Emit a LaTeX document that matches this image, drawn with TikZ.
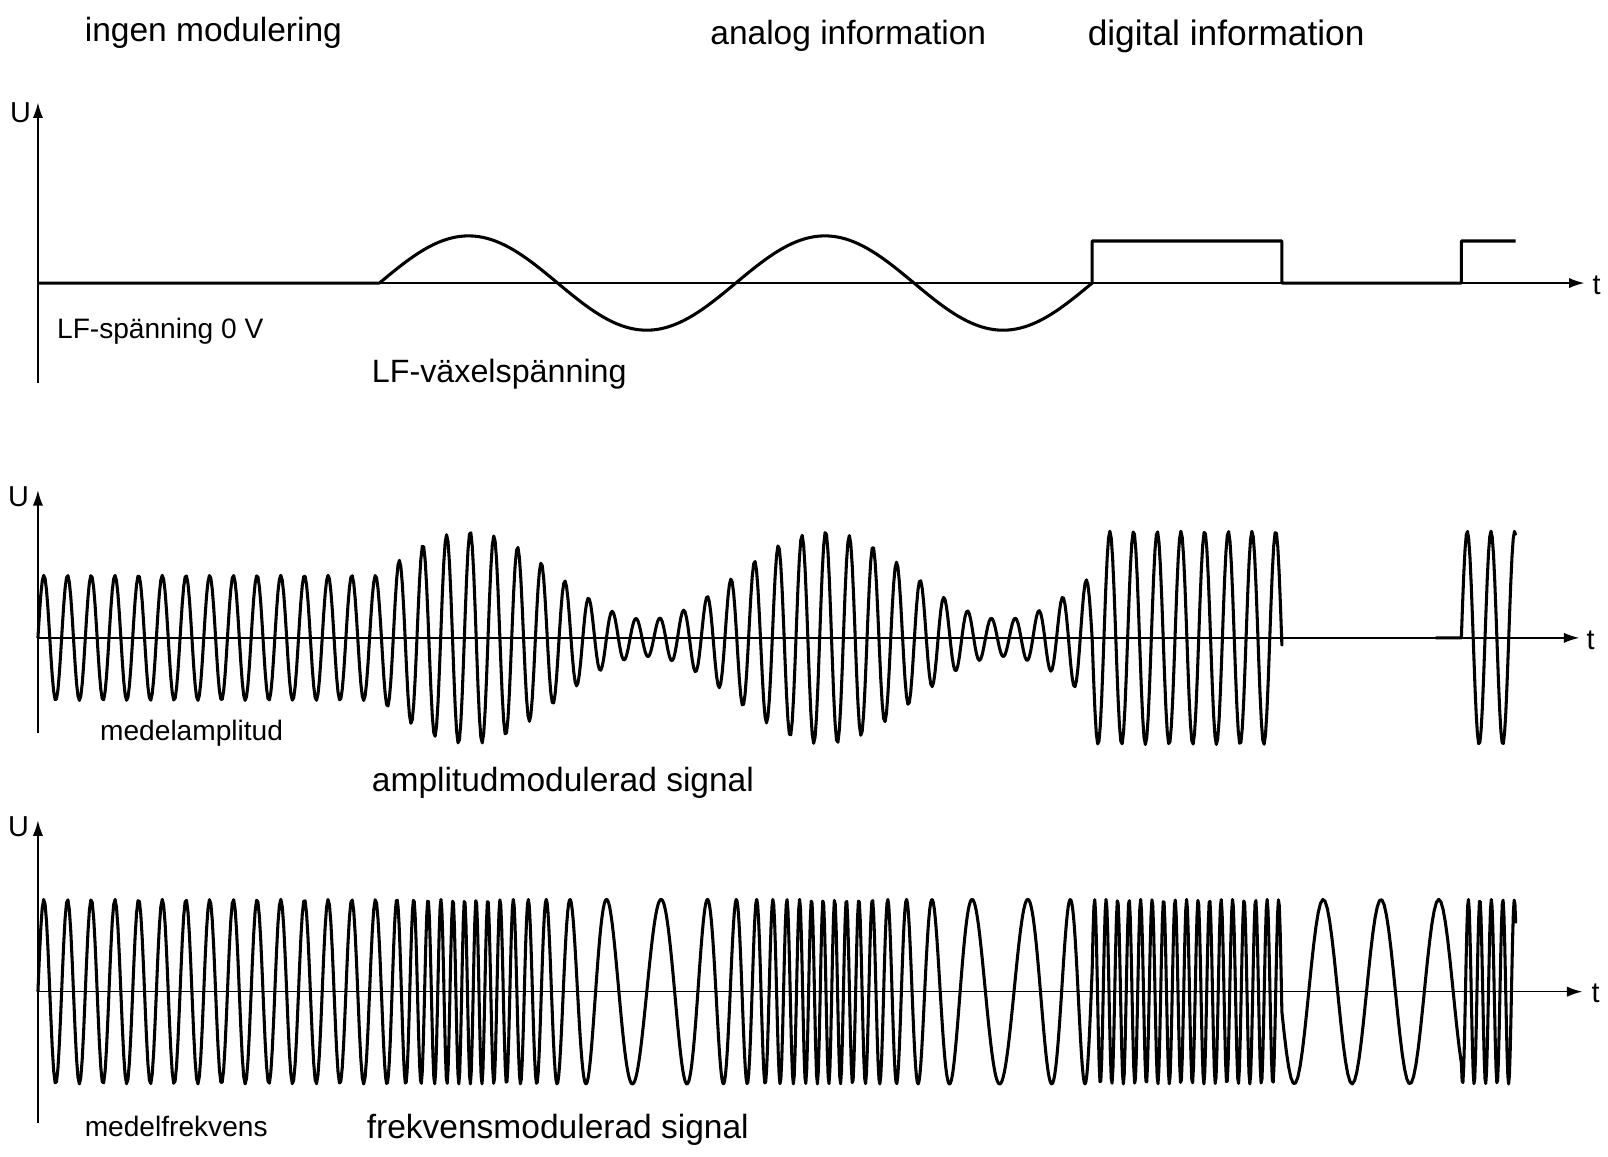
\documentclass[tikz,border=0pt]{standalone}
\usepackage{fontspec}
\setmainfont{Liberation Sans}
\usetikzlibrary{arrows.meta}

\tikzset{
  axisline/.style={line width=0.45pt},
  axisarrow/.style={line width=0.45pt, -{Latex[length=1.5mm,width=1mm]}},
  signal/.style={line width=0.85pt, line join=round},
  title/.style={font=\fontsize{9.3}{11}\selectfont, anchor=west, inner sep=0pt},
  smalltext/.style={font=\fontsize{7.8}{9}\selectfont, anchor=west, inner sep=0pt},
  unittext/.style={font=\fontsize{8}{9}\selectfont, inner sep=0pt},
}

\begin{document}
\begin{tikzpicture}[x=0.1mm, y=-0.1mm,
  declare function={
    car(\x)=sin(mod(\x-37,23.1)/23.1*360);
    env(\x)=1+0.7*sin((\x-370)/347.5*360);
    fmA(\x)=(\x-37)/23.1;
    fmB(\x)=fmA(370)+(1.1175*(\x-370)+45.63*(1-cos((\x-370)/347.5*360))-3.249*sin((\x-370)/347.5*720))/23.1;
    fmC(\x)=fmB(1065)+2.06*(\x-1065)/23.1;
    fmD(\x)=fmC(1250)+0.41*(\x-1250)/23.1;
    fmE(\x)=fmD(1425)+2.06*(\x-1425)/23.1;
    fm(\p)=sin(mod(\p,1)*360);
  }]
\useasboundingbox (0,0) rectangle (1568,1128);

% headings
\node[title] (ingen) at (82,32) {ingen modulering};
\node[title] (analog) at (692,35) {analog information};
\node[title, font=\fontsize{9.8}{11}\selectfont] (digital) at (1060,35) {digital information};

% LF signal
\coordinate (o1) at (37,373);
\coordinate (u1) at (37,100);
\coordinate (b1) at (37,276);
\coordinate (e1) at (1545,276);
\draw[axisarrow] (o1) -- (u1);
\draw[axisarrow] (b1) -- (e1);
\node[unittext] (U1) at (20,110) {U};
\node[unittext] (t1) at (1557,278) {t};
\draw[signal] (b1) -- (370,276)
  -- plot[domain=370:1065, samples=160] (\x,{276-46*sin((\x-370)/347.5*360)})
  -- (1065,235) -- (1250,235) -- (1250,276) -- (1425,276) -- (1425,235) -- (1478,235);
\node[smalltext] (lf0) at (55,323) {LF-spänning 0 V};
\node[title, font=\fontsize{8.95}{11}\selectfont] (lfac) at (362,365) {LF-växelspänning};

% AM signal
\coordinate (o2) at (37,715);
\coordinate (u2) at (37,478);
\coordinate (b2) at (37,622);
\coordinate (e2) at (1540,622);
\draw[axisarrow] (o2) -- (u2);
\draw[axisarrow] (b2) -- (e2);
\node[unittext] (U2) at (18,484) {U};
\node[unittext] (t2) at (1551,624) {t};
\draw[signal] plot[domain=37:370, samples=240] (\x,{622-61*car(\x)})
  -- plot[domain=370:1065, samples=500] (\x,{622-61*env(\x)*car(\x)})
  -- plot[domain=1065:1250, samples=140] (\x,{622-104*car(\x)})
  -- (1250,622);
\draw[signal] (1400,622)
  -- plot[domain=1425:1478, samples=45] (\x,{622-104*sin((\x-1425)/23.1*360)});
\node[smalltext] (medamp) at (97,715) {medelamplitud};
\node[title] (amsig) at (362,763) {amplitudmodulerad signal};

% FM signal
\coordinate (o3) at (37,1095);
\coordinate (u3) at (37,800);
\coordinate (b3) at (37,967);
\coordinate (e3) at (1543,967);
\draw[axisarrow] (o3) -- (u3);
\draw[axisarrow] (b3) -- (e3);
\node[unittext] (U3) at (18,806) {U};
\node[unittext] (t3) at (1556,969) {t};
\draw[signal] plot[domain=37:370, samples=240] (\x,{967-90*fm(fmA(\x))})
  -- plot[domain=370:1065, samples=800] (\x,{967-90*fm(fmB(\x))})
  -- plot[domain=1065:1250, samples=220] (\x,{967-90*fm(fmC(\x))})
  -- plot[domain=1250:1425, samples=80] (\x,{967-90*fm(fmD(\x))})
  -- plot[domain=1425:1478, samples=70] (\x,{967-90*fm(fmE(\x))});
\node[smalltext] (medfrek) at (82,1098) {medelfrekvens};
\node[title] (fmsig) at (357,1102) {frekvensmodulerad signal};
\end{tikzpicture}
\end{document}
